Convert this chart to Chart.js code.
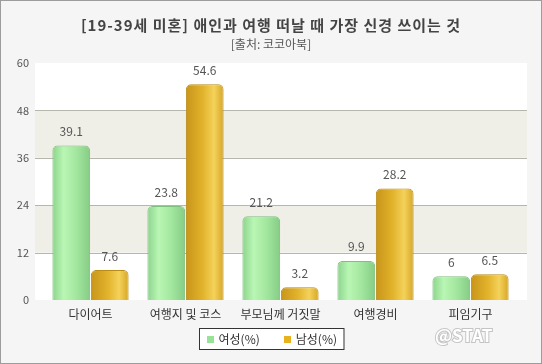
<!DOCTYPE html>
<html>
<head>
<meta charset="utf-8">
<script src="https://cdn.jsdelivr.net/npm/chart.js@4"></script>
<style>
html, body { margin: 0; padding: 0; background: #f5f5f5; }
</style>
</head>
<body>
<canvas id="chart" width="542" height="364"></canvas>
<script>
const categories = ["다이어트", "여행지 및 코스", "부모님께 거짓말", "여행경비", "피임기구"];
const female = [39.1, 23.8, 21.2, 9.9, 6];
const male = [7.6, 54.6, 3.2, 28.2, 6.5];
const yTicks = [0, 12, 24, 36, 48, 60];
const seriesNames = ["여성(%)", "남성(%)"];

const FONT = '"Noto Sans CJK KR", "Noto Sans", sans-serif';

// horizontal gradient stops for each series (glossy look)
const stops = [
  [[0, "#8cd48c"], [0.3, "#b9f6b4"], [0.65, "#a2e69e"], [1, "#86cc86"]],
  [[0, "#c8951a"], [0.45, "#e2b32c"], [0.75, "#f4d25a"], [1, "#d7a626"]]
];

const decor = {
  id: "decor",
  beforeDraw(chart) {
    const { ctx, chartArea: a } = chart;
    const y = chart.scales.y;
    ctx.save();
    ctx.fillStyle = "#f5f5f5";
    ctx.fillRect(0, 0, chart.width, chart.height);
    ctx.strokeStyle = "#9c9c9c";
    ctx.lineWidth = 1;
    ctx.strokeRect(0.5, 0.5, chart.width - 1, chart.height - 1);

    const l = a.left - 8, r = a.right + 9;
    ctx.fillStyle = "#ffffff";
    ctx.fillRect(l, a.top, r - l, a.bottom - a.top);
    for (let i = 1; i < yTicks.length - 1; i += 2) {
      const t = y.getPixelForValue(yTicks[i + 1]);
      const b = y.getPixelForValue(yTicks[i]);
      ctx.fillStyle = "#efeee7";
      ctx.fillRect(l, t, r - l, b - t);
    }
    ctx.strokeStyle = "#b6b6ac";
    yTicks.slice(1, -1).forEach(v => {
      const py = Math.round(y.getPixelForValue(v)) + 0.5;
      ctx.beginPath();
      ctx.moveTo(l, py);
      ctx.lineTo(r, py);
      ctx.stroke();
    });

    // title + source
    ctx.textAlign = "center";
    ctx.textBaseline = "middle";
    ctx.fillStyle = "#444";
    ctx.font = "bold 15px " + FONT;
    ctx.letterSpacing = "1px";
    ctx.fillText("[19-39세 미혼] 애인과 여행 떠날 때 가장 신경 쓰이는 것", chart.width / 2, 25);
    ctx.letterSpacing = "0px";
    ctx.fillStyle = "#555";
    ctx.font = "12px " + FONT;
    ctx.fillText("[출처: 코코아북]", chart.width / 2, 44);
    ctx.restore();
  },
  beforeDatasetsDraw(chart) {
    chart.data.datasets.forEach((ds, di) => {
      chart.getDatasetMeta(di).data.forEach(bar => {
        const g = chart.ctx.createLinearGradient(bar.x - bar.width / 2, 0, bar.x + bar.width / 2, 0);
        stops[di].forEach(s => g.addColorStop(s[0], s[1]));
        bar.options.backgroundColor = g;
      });
    });
  },
  afterDatasetsDraw(chart) {
    const ctx = chart.ctx;
    ctx.save();
    ctx.font = "12px " + FONT;
    ctx.fillStyle = "#555";
    ctx.textAlign = "center";
    ctx.textBaseline = "middle";
    chart.data.datasets.forEach((ds, di) => {
      chart.getDatasetMeta(di).data.forEach((bar, i) => {
        ctx.fillText(String(ds.data[i]), bar.x, bar.y - 14);
      });
    });
    ctx.restore();
  },
  afterDraw(chart) {
    const ctx = chart.ctx;
    ctx.save();
    // legend
    ctx.font = "12px " + FONT;
    ctx.textBaseline = "middle";
    ctx.textAlign = "left";
    const sq = 7, gap = 5, between = 24, pad = 7;
    const widths = chart.data.datasets.map(ds => ctx.measureText(ds.label).width);
    const total = pad * 2 + widths.reduce((s, w) => s + sq + gap + w, 0) + between;
    const bx = Math.round(chart.width / 2 - total / 2) + 0.5, by = 328.5, bh = 21;
    ctx.fillStyle = "#fff";
    ctx.fillRect(bx, by, total, bh);
    ctx.strokeStyle = "#333";
    ctx.strokeRect(bx, by, total, bh);
    let x = bx + pad;
    const cy = by + bh / 2;
    chart.data.datasets.forEach((ds, di) => {
      ctx.fillStyle = ds.legendColor;
      ctx.fillRect(Math.round(x), Math.round(cy - sq / 2), sq, sq);
      x += sq + gap;
      ctx.fillStyle = "#333";
      ctx.fillText(ds.label, x, cy);
      x += widths[di] + between;
    });
    // watermark
    ctx.font = "bold 17px " + FONT;
    ctx.textAlign = "left";
    ctx.lineWidth = 2;
    ctx.strokeStyle = "#c4c4c4";
    ctx.strokeText("@STAT", 435, 336);
    ctx.fillStyle = "#ffffff";
    ctx.fillText("@STAT", 435, 336);
    ctx.restore();
  }
};

new Chart(document.getElementById("chart"), {
  type: "bar",
  data: {
    labels: categories,
    datasets: [
      {
        label: seriesNames[0],
        data: female,
        backgroundColor: () => "#a0e49c",
        borderColor: "#7fbf7f",
        legendColor: "#99e399"
      },
      {
        label: seriesNames[1],
        data: male,
        backgroundColor: () => "#e6b830",
        borderColor: "#b98c18",
        legendColor: "#e8b21e"
      }
    ]
  },
  options: {
    responsive: false,
    animation: false,
    layout: { padding: { top: 63, right: 24, bottom: 0, left: 0 } },
    datasets: {
      bar: {
        borderWidth: 1,
        borderSkipped: "bottom",
        borderRadius: { topLeft: 5, topRight: 5 },
        categoryPercentage: 0.81,
        barPercentage: 0.98
      }
    },
    plugins: {
      legend: { display: false },
      tooltip: { enabled: false }
    },
    scales: {
      x: {
        grid: { display: false, drawTicks: false },
        border: { display: false },
        ticks: { color: "#333", font: { family: FONT, size: 12 }, padding: 7, maxRotation: 0 },
        afterFit: s => { s.height = 64; }
      },
      y: {
        min: 0,
        max: 60,
        afterBuildTicks: s => { s.ticks = yTicks.map(v => ({ value: v })); },
        grid: { display: false, drawTicks: false },
        border: { display: false },
        ticks: { color: "#555", font: { family: FONT, size: 11 }, padding: 14 },
        afterFit: s => { s.width = 43; }
      }
    }
  },
  plugins: [decor]
});
</script>
</body>
</html>
